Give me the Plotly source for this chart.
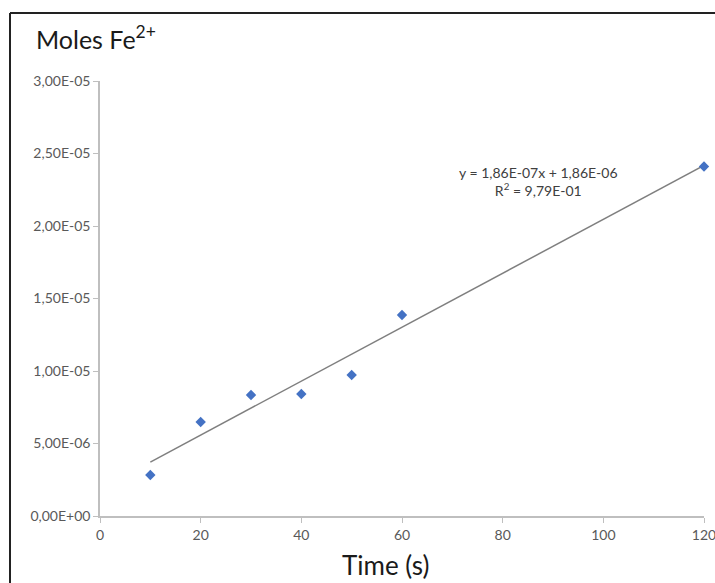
import plotly.graph_objects as go

# Data
time_s = [10, 20, 30, 40, 50, 60, 120]
moles_fe2 = [2.83e-6, 6.48e-6, 8.34e-6, 8.41e-6, 9.72e-6, 13.86e-6, 24.1e-6]
trend_slope = 1.86e-7
trend_intercept = 1.86e-6
trend_x = [10, 120]
x_ticks = [0, 20, 40, 60, 80, 100, 120]
y_ticks = [0, 5e-6, 1e-5, 1.5e-5, 2e-5, 2.5e-5, 3e-5]
y_tick_labels = ["0,00E+00", "5,00E-06", "1,00E-05", "1,50E-05", "2,00E-05", "2,50E-05", "3,00E-05"]

W, H = 715, 583
# plot area in page pixels: x 100..704, y 81..516
PL, PR, PT, PB = 100, 704, 81, 516
L, R, T, B = PL, W - PR, PT, H - PB
pw = PR - PL
ph = PB - PT

def px_x(p):
    return (p - PL) / pw

def px_y(p):
    return (PB - p) / ph

font_family = "Lato, 'Open Sans', sans-serif"

fig = go.Figure()
fig.add_trace(go.Scatter(
    x=trend_x, y=[trend_slope * x + trend_intercept for x in trend_x],
    mode="lines", line=dict(color="#7f7f7f", width=1.5), showlegend=False, hoverinfo="skip"))
fig.add_trace(go.Scatter(
    x=time_s, y=moles_fe2, mode="markers", cliponaxis=False,
    marker=dict(symbol="diamond", size=8, color="#4472C4"), showlegend=False))

fig.update_layout(
    width=W, height=H,
    margin=dict(l=L, r=R, t=T, b=B, autoexpand=False),
    paper_bgcolor="white", plot_bgcolor="white",
    font=dict(family=font_family, color="#595959"),
    xaxis=dict(range=[0, 120], tickvals=x_ticks, showgrid=False, zeroline=False,
               showline=True, linecolor="#bfbfbf", linewidth=1.5,
               ticks="outside", ticklen=5, tickcolor="#bfbfbf",
               ticklabeloverflow="allow", automargin=False,
               tickfont=dict(size=14, color="#595959")),
    yaxis=dict(range=[0, 3e-5], tickvals=y_ticks, ticktext=y_tick_labels, showgrid=False,
               zeroline=False, showline=True, linecolor="#bfbfbf", linewidth=1.5,
               ticks="outside", ticklen=5, tickcolor="#bfbfbf", automargin=False,
               tickfont=dict(size=14, color="#595959")),
    title=dict(text="Moles Fe<sup>2+</sup>", x=36 / W, xanchor="left", xref="container",
               y=1 - 40 / H, yanchor="middle", yref="container",
               font=dict(size=25, color="#1a1a1a", family=font_family)),
)

fig.add_annotation(text="Time (s)", xref="paper", yref="paper",
                   x=px_x(385), y=px_y(565), xanchor="center", yanchor="middle",
                   showarrow=False, font=dict(size=26, color="#1a1a1a", family=font_family))
fig.add_annotation(text="y = 1,86E-07x + 1,86E-06<br>R<sup>2</sup> = 9,79E-01", xref="paper", yref="paper",
                   x=px_x(538), y=px_y(181), xanchor="center", yanchor="middle",
                   showarrow=False, align="center",
                   font=dict(size=14, color="#404040", family=font_family))

# outer frame (top and left edges)
fig.add_shape(type="line", xref="paper", yref="paper", x0=px_x(10), x1=px_x(720),
              y0=px_y(13), y1=px_y(13), line=dict(color="#222222", width=2))
fig.add_shape(type="line", xref="paper", yref="paper", x0=px_x(10), x1=px_x(10),
              y0=px_y(13), y1=px_y(600), line=dict(color="#222222", width=2))

fig.write_html("out.html", config={"displayModeBar": False},
               post_script="document.body.style.margin='0';document.body.style.overflow='hidden';")
